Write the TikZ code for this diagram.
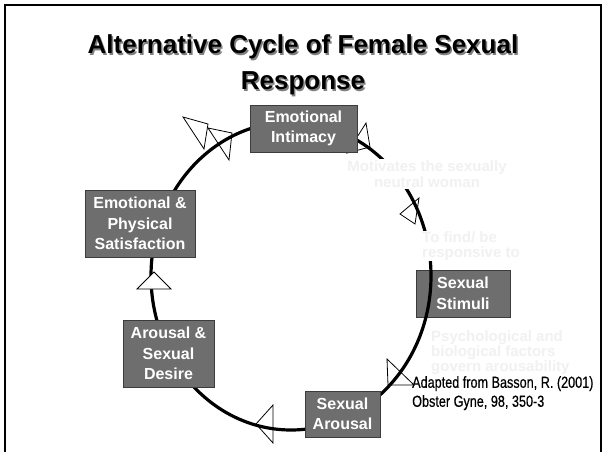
\documentclass[tikz,border=0pt]{standalone}
\usepackage{fontspec}
\setmainfont{Liberation Sans}
\newfontfamily\narrowfont[FakeStretch=0.79,FakeBold=0.5]{Liberation Sans}
\usetikzlibrary{positioning}
\definecolor{boxgray}{HTML}{6E6E6E}
\definecolor{boxedge}{HTML}{3C3C3C}
\definecolor{ghost}{HTML}{F1F1F1}
\definecolor{shadowgray}{HTML}{808080}

\begin{document}
\begin{tikzpicture}[x=1pt,y=-1pt]
    \tikzstyle{stage}=[fill=boxgray,draw=boxedge,line width=0.8pt,text=white,font=\bfseries\fontsize{16}{20.5}\selectfont,align=center,inner sep=0pt]
    \tikzstyle{ghostnote}=[fill=white,text=ghost,font=\bfseries\fontsize{15}{16}\selectfont,inner sep=1pt]
    \tikzstyle{openhead}=[draw=black,line width=0.8pt,line join=miter]
    \useasboundingbox (0,0) rectangle (605,452);
    \draw[line width=2pt] (5,470) -- (5,5) -- (601,5) -- (601,470);
    % the curve runs over this box
    \node[stage,minimum width=94,minimum height=47] (stimuli) at (463,293.5) {Sexual\\Stimuli};
    \draw[openhead] (183,117) -- (208,124) -- (204,149) -- cycle;
    \draw[openhead] (208,128) -- (232,133) -- (229,160) -- cycle;
    \draw[openhead] (366,123) -- (370,147) -- (347,153) -- cycle;
    \draw[openhead] (400,214) -- (419,198) -- (415,224) -- cycle;
    \draw[openhead] (387,359) -- (388,385) -- (414,385) -- cycle;
    \draw[openhead] (256,424) -- (273,405) -- (273,443) -- cycle;
    \draw[line width=3.2pt] (291,276) ellipse [x radius=140, y radius=154];
    % notes, nearly white
    \node[ghostnote,align=center] (motivates) at (427,174) {Motivates the sexually\\neutral woman};
    \node[ghostnote,align=left,anchor=west,font=\bfseries\fontsize{15}{15}\selectfont] (tofind) at (421,246) {To find/ be\\responsive to};
    \node[ghostnote,align=left,anchor=west,font=\bfseries\fontsize{15}{13.5}\selectfont] (factors) at (430,353) {Psychological and\\biological factors\\govern arousability};
    \node[stage,minimum width=107,minimum height=47] (intimacy) at (303.5,128.5) {Emotional\\Intimacy};
    \node[stage,minimum width=110,minimum height=67] (satisfaction) at (140,223.5) {Emotional \&\\Physical\\Satisfaction};
    \node[stage,minimum width=91,minimum height=67] (desire) at (168.5,353.5) {Arousal \&\\Sexual\\Desire};
    \node[stage,minimum width=75,minimum height=46] (arousal) at (342.5,414) {Sexual\\Arousal};
    \draw[openhead,fill=white] (154,272) -- (137,289) -- (171,289) -- cycle;
    \node[anchor=north west,align=left,inner sep=0pt,font=\narrowfont\fontsize{16}{19}\selectfont] (source) at (412,376) {Adapted from Basson, R. (2001)\\Obster Gyne, 98, 350-3};
    \node[align=center,text=shadowgray,font=\bfseries\fontsize{26}{36}\selectfont] (titleshadow) at (304.5,66.5) {Alternative Cycle of Female Sexual\\Response};
    \node[align=center,font=\bfseries\fontsize{26}{36}\selectfont] (title) at (303,65) {Alternative Cycle of Female Sexual\\Response};
\end{tikzpicture}
\end{document}
